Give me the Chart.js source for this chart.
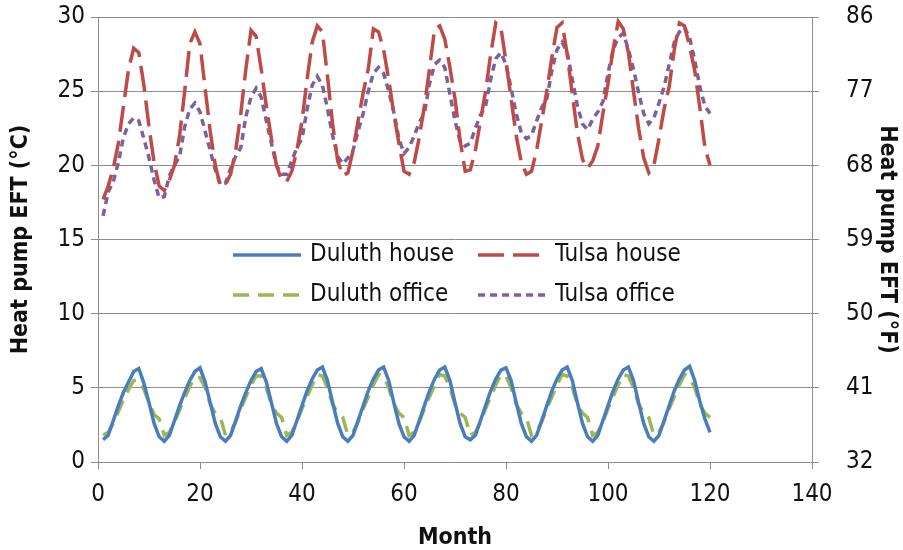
<!DOCTYPE html>
<html lang="en">
<head>
  <meta charset="UTF-8">
  <title>Heat pump EFT</title>
  <script src="https://cdn.jsdelivr.net/npm/chart.js"></script>
  <style>
    html, body { margin: 0; padding: 0; background: #fff; }
    #wrap { width: 903px; height: 550px; position: relative; }
  </style>
</head>
<body>
<div id="wrap"><canvas id="myChart" width="903" height="550"></canvas></div>

<script>
  // month numbers 1..120
  var months = [];
  for (var m = 1; m <= 120; m++) months.push(m);

  var duluthHouse = [
    1.5, 1.8, 2.8, 3.8, 4.7, 5.4, 6.1, 6.3, 5.3, 4.0, 2.6, 1.7,
    1.4, 1.8, 2.8, 3.8, 4.7, 5.5, 6.1, 6.35, 5.4, 4.0, 2.6, 1.7,
    1.4, 1.8, 2.8, 3.8, 4.7, 5.5, 6.1, 6.3, 5.4, 4.0, 2.6, 1.7,
    1.4, 1.8, 2.8, 3.8, 4.8, 5.6, 6.2, 6.4, 5.5, 4.0, 2.6, 1.7,
    1.4, 1.8, 2.8, 3.8, 4.8, 5.6, 6.2, 6.4, 5.5, 4.0, 2.6, 1.7,
    1.4, 1.8, 2.8, 3.8, 4.8, 5.6, 6.2, 6.4, 5.5, 4.0, 2.6, 1.7,
    1.5, 1.8, 2.8, 3.8, 4.8, 5.6, 6.2, 6.35, 5.5, 4.0, 2.6, 1.7,
    1.4, 1.8, 2.8, 3.8, 4.8, 5.6, 6.2, 6.4, 5.5, 4.0, 2.6, 1.7,
    1.4, 1.8, 2.8, 3.8, 4.8, 5.6, 6.2, 6.4, 5.5, 4.0, 2.6, 1.7,
    1.4, 1.8, 2.8, 3.8, 4.8, 5.6, 6.2, 6.45, 5.5, 4.1, 2.9, 2.0
  ];

  var duluthOffice = [
    1.8, 2.0, 2.6, 3.4, 4.2, 4.9, 5.5, 5.5, 4.9, 4.0, 3.2, 2.9,
    1.8, 2.0, 2.7, 3.5, 4.3, 5.1, 5.7, 5.7, 5.0, 3.9, 3.3, 3.0,
    1.8, 2.0, 2.7, 3.6, 4.4, 5.2, 5.8, 5.8, 5.0, 3.9, 3.3, 3.0,
    1.8, 2.0, 2.7, 3.6, 4.4, 5.2, 5.9, 5.8, 5.0, 3.9, 3.3, 3.0,
    1.8, 2.0, 2.7, 3.6, 4.4, 5.2, 5.9, 5.8, 5.0, 3.9, 3.3, 3.0,
    1.8, 2.0, 2.7, 3.6, 4.4, 5.2, 5.9, 5.8, 5.0, 3.9, 3.3, 3.0,
    1.8, 2.0, 2.7, 3.6, 4.4, 5.2, 5.9, 5.8, 5.0, 3.9, 3.3, 3.0,
    1.8, 2.0, 2.7, 3.6, 4.4, 5.2, 5.9, 5.8, 5.0, 3.9, 3.3, 3.0,
    1.8, 2.0, 2.7, 3.6, 4.4, 5.2, 5.9, 5.8, 5.0, 3.9, 3.3, 3.0,
    1.8, 2.0, 2.7, 3.6, 4.4, 5.2, 5.9, 5.7, 5.0, 3.9, 3.3, 3.0
  ];

  var tulsaHouse = [
    17.7, 18.6, 19.8, 21.5, 24.0, 26.5, 27.9, 27.6, 25.4, 22.6, 20.2, 18.6,
    18.3, 19.0, 20.0, 22.0, 25.0, 28.2, 29.0, 28.2, 25.2, 22.3, 20.0, 18.6,
    18.7, 19.4, 21.0, 23.5, 26.5, 29.1, 28.7, 26.5, 24.0, 21.8, 20.0, 19.0,
    18.9, 19.6, 21.0, 23.0, 25.8, 28.3, 29.4, 29.0, 26.0, 22.8, 20.3, 19.3,
    19.5, 21.0, 23.0, 24.9, 26.5, 29.2, 29.0, 27.8, 25.8, 23.5, 21.5, 19.6,
    19.4, 20.2, 21.9, 24.0, 26.5, 29.2, 29.4, 28.5, 26.6, 24.5, 21.7, 19.6,
    19.7, 21.0, 23.0, 25.0, 27.5, 29.6, 29.3, 27.0, 24.5, 22.0, 20.2, 19.4,
    19.6, 21.0, 23.0, 25.0, 27.3, 29.3, 29.6, 27.5, 24.8, 22.2, 20.4, 19.8,
    20.3, 21.3, 23.5, 25.5, 27.8, 29.7, 29.2, 27.6, 25.0, 22.5, 20.5, 19.5,
    20.0, 21.8, 23.8, 25.3, 27.8, 29.6, 29.4, 28.0, 26.4, 23.9, 21.2, 20.0
  ];

  var tulsaOffice = [
    16.6, 18.2, 18.9, 20.2, 21.9, 22.8, 23.2, 23.0, 21.8, 20.5, 19.0, 17.8,
    17.9, 19.3, 20.0, 20.6, 22.6, 23.8, 24.2, 23.6, 22.3, 21.0, 19.7, 18.7,
    18.8, 19.8, 20.6, 21.2, 23.3, 24.6, 25.2, 24.6, 23.0, 21.5, 20.0, 19.4,
    19.4, 20.3, 21.2, 21.8, 23.8, 25.4, 26.0, 25.4, 23.8, 22.0, 20.6, 20.1,
    20.5, 21.0, 22.3, 23.5, 25.0, 26.2, 26.6, 26.2, 25.0, 23.6, 21.8, 20.8,
    21.2, 22.0, 22.9, 23.5, 25.5, 26.8, 27.1, 26.6, 24.8, 23.0, 21.6, 21.3,
    21.5, 22.5, 23.4, 24.0, 25.8, 27.2, 27.6, 26.8, 25.2, 23.5, 22.2, 21.8,
    22.0, 23.0, 23.9, 24.5, 26.4, 27.8, 28.3, 27.6, 25.8, 24.0, 22.8, 22.4,
    23.1, 23.6, 24.3, 26.2, 27.8, 28.6, 28.9, 27.8, 26.5, 24.9, 23.5, 22.8,
    23.2, 24.2, 25.3, 26.8, 28.3, 29.0, 29.3, 28.6, 27.1, 25.3, 24.0, 23.5
  ];

  var seriesNames = ['Duluth house', 'Tulsa house', 'Duluth office', 'Tulsa office'];
  var xTicks = [0, 20, 40, 60, 80, 100, 120, 140];
  var yTicksC = [0, 5, 10, 15, 20, 25, 30];
  var yTicksF = [32, 41, 50, 59, 68, 77, 86];

  var fontFam = "'Liberation Sans Narrow', 'DejaVu Sans Condensed', 'Liberation Sans', sans-serif";
  var gridGray = '#8c8c8c';

  // legend drawn inside the plot, 2 x 2
  var insideLegend = {
    id: 'insideLegend',
    afterDraw: function (chart) {
      var ctx = chart.ctx;
      var cols = [233, 478];
      var rows = [255, 295];
      ctx.save();
      ctx.font = '24px ' + fontFam;
      ctx.textBaseline = 'middle';
      ctx.fillStyle = '#111';
      chart.data.datasets.forEach(function (ds, k) {
        var x = cols[k % 2], y = rows[Math.floor(k / 2)];
        ctx.strokeStyle = ds.borderColor;
        ctx.lineWidth = ds.borderWidth;
        ctx.setLineDash(ds.borderDash || []);
        ctx.beginPath();
        ctx.moveTo(x, y);
        ctx.lineTo(x + 68, y);
        ctx.stroke();
        ctx.setLineDash([]);
        ctx.fillText(ds.label, x + 77, y);
      });
      ctx.restore();
    }
  };

  function lineSet(label, data, color, dash) {
    return {
      label: label,
      data: data,
      borderColor: color,
      backgroundColor: color,
      borderWidth: 3.5,
      borderDash: dash,
      pointRadius: 0,
      tension: 0,
      fill: false,
      yAxisID: 'y'
    };
  }

  // keep fixed scale sizes and stop label padding from pushing the plot down
  function fixSize(w, h) {
    return function (s) {
      if (w) s.width = w;
      if (h) s.height = h;
      s.paddingTop = 0;
      s.paddingBottom = 0;
      s.paddingLeft = 0;
      s.paddingRight = 0;
    };
  }

  const ctx = document.getElementById('myChart');
  new Chart(ctx, {
    type: 'line',
    data: {
      labels: months,
      datasets: [
        lineSet(seriesNames[0], duluthHouse, '#4A7EBB', []),
        lineSet(seriesNames[1], tulsaHouse, '#BE4B48', [26, 9]),
        lineSet(seriesNames[2], duluthOffice, '#98B954', [16, 9]),
        lineSet(seriesNames[3], tulsaOffice, '#7D60A0', [7, 5])
      ]
    },
    options: {
      responsive: false,
      animation: false,
      layout: { padding: { top: 17, left: 0, right: 0, bottom: 0 } },
      plugins: {
        legend: { display: false },
        tooltip: { enabled: false }
      },
      scales: {
        x: {
          type: 'linear',
          min: 0, max: 140,
          afterBuildTicks: function (s) { s.ticks = xTicks.map(function (v) { return { value: v }; }); },
          afterFit: fixSize(0, 88),
          grid: { drawOnChartArea: false, color: gridGray, tickLength: 7 },
          border: { color: gridGray },
          ticks: { color: '#111', padding: 11, font: { family: fontFam, size: 24 }, maxRotation: 0 },
          title: { display: true, text: 'Month', color: '#111', padding: 0,
                   font: { family: fontFam, size: 23, weight: 'bold', lineHeight: 1 } }
        },
        y: {
          position: 'left',
          min: 0, max: 30,
          afterBuildTicks: function (s) { s.ticks = yTicksC.map(function (v) { return { value: v }; }); },
          afterFit: fixSize(98, 0),
          grid: { color: gridGray, tickLength: 7 },
          border: { color: gridGray },
          ticks: { color: '#111', padding: 6, font: { family: fontFam, size: 24 } },
          title: { display: true, text: 'Heat pump EFT (°C)', color: '#111', padding: { top: 7, bottom: 0 },
                   font: { family: fontFam, size: 23, weight: 'bold', lineHeight: 1.2 } }
        },
        y2: {
          position: 'right',
          min: 32, max: 86,
          afterBuildTicks: function (s) { s.ticks = yTicksF.map(function (v) { return { value: v }; }); },
          afterFit: fixSize(91, 0),
          grid: { drawOnChartArea: false, color: gridGray, tickLength: 7 },
          border: { color: gridGray },
          ticks: { color: '#111', padding: 27, font: { family: fontFam, size: 24 } },
          title: { display: true, text: 'Heat pump EFT (°F)', color: '#111', padding: { top: 2, bottom: 0 },
                   font: { family: fontFam, size: 23, weight: 'bold', lineHeight: 1.2 } }
        }
      }
    },
    plugins: [insideLegend]
  });
</script>
</body>
</html>
